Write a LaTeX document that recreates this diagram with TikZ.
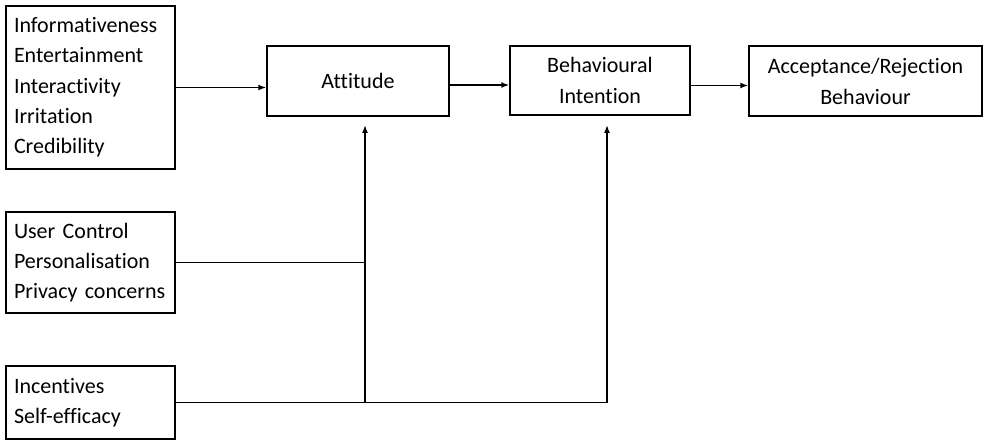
\documentclass[tikz,border=0pt]{standalone}
\usepackage{fontspec}
\setmainfont[Ligatures={NoCommon}]{Carlito}
\usetikzlibrary{arrows.meta,positioning}
\begin{document}
\begin{tikzpicture}[x=1pt,y=-1pt,
  box/.style={draw,line width=1.5pt,inner sep=0pt,align=center,font=\fontsize{22}{31}\selectfont},
  lbox/.style={draw,line width=1.5pt,inner xsep=8pt,inner ysep=0pt,align=left,font=\fontsize{22}{30.3}\selectfont},
  conn/.style={line width=1.5pt},
  arr/.style={line width=1.5pt,-{Latex[length=8pt,width=6pt]}}]
\useasboundingbox (0,0) rectangle (985,441);
\node[lbox,minimum width=169pt,minimum height=163pt,text width=153pt] (b1) at (90.5,87.5)
  {Informativeness\\Entertainment\\Interactivity\\Irritation\\Credibility};
\node[lbox,minimum width=169pt,minimum height=101pt,text width=153pt] (b2) at (90.5,262.5)
  {User Control\\Personalisation\\Privacy concerns};
\node[lbox,minimum width=169pt,minimum height=73pt,text width=153pt] (b3) at (90.5,402.5)
  {Incentives\\Self-efficacy};
\node[box,minimum width=182pt,minimum height=70pt] (att) at (358,81) {Attitude};
\node[box,minimum width=180pt,minimum height=69pt] (bi) at (600,80.5) {Behavioural\\Intention};
\node[box,minimum width=233pt,minimum height=70pt] (acc) at (865.5,81) {Acceptance/Rejection\\Behaviour};
\coordinate (ja) at (365,402.5);
\coordinate (jb) at (607,402.5);
\coordinate (ta) at (365,125);
\coordinate (tb) at (607,125);
\draw[arr] (b1.east) -- (b1.east -| att.west);
\draw[arr] ([yshift=-4pt]att.east) -- ([yshift=-4pt]att.east -| bi.west);
\draw[arr] ([yshift=-5pt]bi.east) -- ([yshift=-5pt]bi.east -| acc.west);
\draw[conn] (b2.east) -- (b2.east -| ja);
\draw[conn] (b3.east) -- (jb);
\draw[arr] (ja) -- (ta);
\draw[arr] (jb) -- (tb);
\end{tikzpicture}
\end{document}
